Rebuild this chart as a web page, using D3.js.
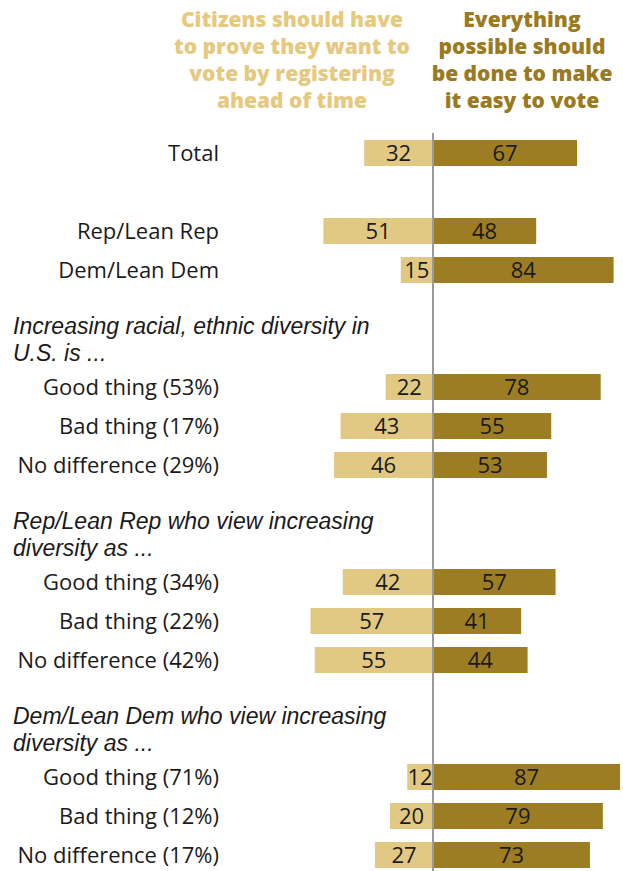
<!DOCTYPE html>
<html>
<head>
<meta charset="utf-8">
<script src="https://cdn.jsdelivr.net/npm/d3@7"></script>
<style>
  body { margin: 0; background: #fff; }
  svg { display: block; font-family: "Open Sans", sans-serif; }
</style>
</head>
<body>
<div id="chart"></div>
<script>
const leftHeader = ["Citizens should have", "to prove they want to", "vote by registering", "ahead of time"];
const rightHeader = ["Everything", "possible should", "be done to make", "it easy to vote"];

const sectionTitles = [
  null,
  null,
  ["Increasing racial, ethnic diversity in", "U.S. is ..."],
  ["Rep/Lean Rep who view increasing", "diversity as ..."],
  ["Dem/Lean Dem who view increasing", "diversity as ..."]
];
const sectionRows = [
  ["Total"],
  ["Rep/Lean Rep", "Dem/Lean Dem"],
  ["Good thing (53%)", "Bad thing (17%)", "No difference (29%)"],
  ["Good thing (34%)", "Bad thing (22%)", "No difference (42%)"],
  ["Good thing (71%)", "Bad thing (12%)", "No difference (17%)"]
];
const proveValues = [32, 51, 15, 22, 43, 46, 42, 57, 55, 12, 20, 27];
const easyValues = [67, 48, 84, 78, 55, 53, 57, 41, 44, 87, 79, 73];

const width = 623, height = 871;
const lightColor = "#e2c983", darkColor = "#9c7d24";

// lay rows out in slots: a blank slot before the party rows, two slots for each italic title
let slot = 0;
const rows = [];
const titles = [];
sectionRows.forEach((labels, s) => {
  if (s > 0) {
    if (sectionTitles[s]) { titles.push({ lines: sectionTitles[s], slot: slot + 2 }); slot += 2; }
    else slot += 1;
  }
  labels.forEach(l => { rows.push({ label: l, slot: slot }); slot += 1; });
});
rows.forEach((r, i) => { r.prove = proveValues[i]; r.easy = easyValues[i]; });

const y = d3.scaleLinear().domain([0, slot - 1]).range([153, 855]);
const xRight = d3.scaleLinear().domain([0, 100]).range([433, 648]);
const xLeft = d3.scaleLinear().domain([0, 100]).range([433, 218]);
const barH = 26;

const svg = d3.select("#chart")
  .append("svg")
    .attr("width", width)
    .attr("height", height);

svg.append("g")
  .selectAll("text")
  .data(leftHeader)
  .join("text")
    .attr("x", 292)
    .attr("y", (d, i) => 27 + i * 27)
    .attr("text-anchor", "middle")
    .attr("font-size", 21)
    .attr("font-weight", 800)
    .attr("fill", "#e5c97f")
    .text(d => d);

svg.append("g")
  .selectAll("text")
  .data(rightHeader)
  .join("text")
    .attr("x", 522)
    .attr("y", (d, i) => 27 + i * 27)
    .attr("text-anchor", "middle")
    .attr("font-size", 21)
    .attr("font-weight", 800)
    .attr("fill", "#9a7a1f")
    .text(d => d);

const row = svg.append("g")
  .selectAll("g")
  .data(rows)
  .join("g")
    .attr("transform", d => `translate(0,${y(d.slot)})`);

row.append("rect")
  .attr("x", d => xLeft(d.prove))
  .attr("y", -barH / 2)
  .attr("width", d => xLeft(0) - xLeft(d.prove))
  .attr("height", barH)
  .attr("fill", lightColor);

row.append("rect")
  .attr("x", xRight(0))
  .attr("y", -barH / 2)
  .attr("width", d => xRight(d.easy) - xRight(0))
  .attr("height", barH)
  .attr("fill", darkColor);

row.append("text")
  .attr("x", d => (xLeft(d.prove) + xLeft(0)) / 2)
  .attr("dy", "0.36em")
  .attr("text-anchor", "middle")
  .attr("font-size", 22)
  .attr("fill", "#1a1a1a")
  .text(d => d.prove);

row.append("text")
  .attr("x", d => (xRight(d.easy) + xRight(0)) / 2)
  .attr("dy", "0.36em")
  .attr("text-anchor", "middle")
  .attr("font-size", 22)
  .attr("fill", "#1a1a1a")
  .text(d => d.easy);

row.append("text")
  .attr("x", 219)
  .attr("dy", "0.36em")
  .attr("text-anchor", "end")
  .attr("font-size", 22)
  .attr("fill", "#1a1a1a")
  .text(d => d.label);

// italic section titles, in a face with a shorter line box so the two lines don't collide
svg.append("g")
  .selectAll("text")
  .data(titles.flatMap(t => t.lines.map((l, i) => ({ text: l, slot: t.slot, i: i }))))
  .join("text")
    .attr("x", 13)
    .attr("y", d => y(d.slot) - 53 + d.i * 27)
    .attr("font-family", "'Liberation Sans', Arial, sans-serif")
    .attr("font-size", 23)
    .attr("font-style", "italic")
    .attr("fill", "#1a1a1a")
    .text(d => d.text);

svg.append("line")
  .attr("x1", xRight(0))
  .attr("x2", xRight(0))
  .attr("y1", 133)
  .attr("y2", height)
  .attr("stroke", "#9a9a9a")
  .attr("stroke-width", 2);
</script>
</body>
</html>
